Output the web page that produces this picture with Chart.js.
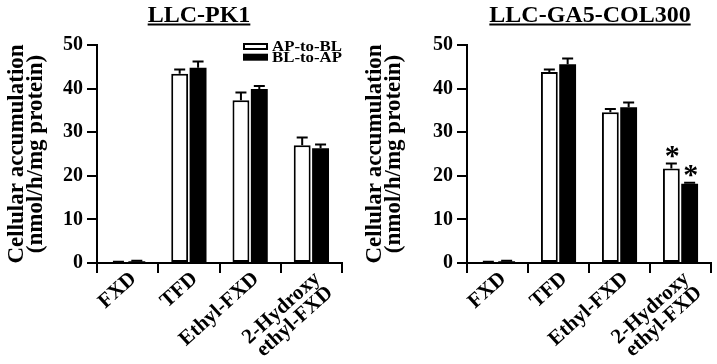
<!DOCTYPE html>
<html>
<head>
<meta charset="utf-8">
<script src="https://cdn.jsdelivr.net/npm/chart.js@4"></script>
<style>
body { margin: 0; background: #fff; }
#wrap { position: relative; width: 717px; height: 364px; }
canvas { position: absolute; top: 0; }
</style>
</head>
<body>
<div id="wrap">
  <canvas id="pk1" width="358" height="364" style="left:0"></canvas>
  <canvas id="col" width="359" height="364" style="left:358px"></canvas>
</div>
<script>
// values
const categories = ['FXD', 'TFD', 'Ethyl-FXD', ['2-Hydroxy', 'ethyl-FXD']];
const yTicks = [0, 10, 20, 30, 40, 50];
const seriesNames = ['AP-to-BL', 'BL-to-AP'];

const pk1ApToBl = [0.2, 43.4, 37.3, 27.0];
const pk1ApToBlErr = [0.1, 1.0, 1.8, 1.8];
const pk1BlToAp = [0.4, 44.8, 39.9, 26.3];
const pk1BlToApErr = [0.1, 1.4, 0.7, 0.9];

const colApToBl = [0.2, 43.8, 34.6, 21.7];
const colApToBlErr = [0.1, 0.6, 0.7, 1.1];
const colBlToAp = [0.4, 45.6, 35.7, 18.2];
const colBlToApErr = [0.1, 1.3, 1.1, 0.2];
const colStarsAp = [false, false, false, true];
const colStarsBl = [false, false, false, true];

const SERIF = '"Liberation Serif", "Times New Roman", serif';

const errorBars = {
    id: 'errorBars',
    afterDatasetsDraw(chart) {
        const ctx = chart.ctx;
        const y = chart.scales.y;
        chart.data.datasets.forEach((ds, i) => {
            chart.getDatasetMeta(i).data.forEach((bar, j) => {
                const top = y.getPixelForValue(ds.data[j] + ds.errors[j]);
                ctx.save();
                ctx.strokeStyle = '#000';
                ctx.lineWidth = 2;
                ctx.beginPath();
                ctx.moveTo(bar.x, bar.y);
                ctx.lineTo(bar.x, top);
                ctx.moveTo(bar.x - 5.5, top);
                ctx.lineTo(bar.x + 5.5, top);
                ctx.stroke();
                if (ds.stars && ds.stars[j]) {
                    ctx.fillStyle = '#000';
                    ctx.font = 'bold 30px ' + SERIF;
                    ctx.textAlign = 'center';
                    ctx.textBaseline = 'alphabetic';
                    ctx.fillText('*', bar.x + 1, top + 1);
                }
                ctx.restore();
            });
        });
    }
};

const panelTitle = {
    id: 'panelTitle',
    afterDraw(chart, args, opts) {
        const ctx = chart.ctx;
        ctx.save();
        ctx.font = 'bold 24px ' + SERIF;
        ctx.fillStyle = '#000';
        ctx.textAlign = 'center';
        ctx.textBaseline = 'alphabetic';
        ctx.fillText(opts.text, opts.x, 22);
        const w = ctx.measureText(opts.text).width;
        ctx.fillRect(opts.x - w / 2, 23.5, w, 2);
        ctx.restore();
    }
};

const boxLegend = {
    id: 'boxLegend',
    afterDraw(chart, args, opts) {
        if (!opts.show) return;
        const ctx = chart.ctx;
        const x = chart.chartArea.right - 99;
        ctx.save();
        ctx.font = 'bold 15px ' + SERIF;
        ctx.textBaseline = 'alphabetic';
        chart.data.datasets.forEach((ds, i) => {
            const top = 43 + i * 10.7;
            ctx.fillStyle = '#000';
            ctx.fillRect(x, top, 25, 7);
            if (ds.backgroundColor !== '#000') {
                ctx.fillStyle = ds.backgroundColor;
                ctx.fillRect(x + 2, top + 2, 21, 3);
            }
            ctx.fillStyle = '#000';
            ctx.save();
            ctx.translate(x + 29, top + 8.3);
            ctx.scale(1.12, 1);
            ctx.fillText(ds.label, 0, 0);
            ctx.restore();
        });
        ctx.restore();
    }
};

function makePanel(id, ap, apErr, bl, blErr, apStars, blStars, title, titleX, axisWidth, rightPad, legend) {
    return new Chart(document.getElementById(id), {
        type: 'bar',
        data: {
            labels: categories,
            datasets: [{
                label: seriesNames[0],
                data: ap,
                errors: apErr,
                stars: apStars,
                backgroundColor: '#fff',
                borderColor: '#000',
                borderWidth: 2,
                borderSkipped: false
            }, {
                label: seriesNames[1],
                data: bl,
                errors: blErr,
                stars: blStars,
                backgroundColor: '#000',
                borderColor: '#000',
                borderWidth: 0
            }]
        },
        options: {
            responsive: false,
            animation: false,
            devicePixelRatio: 1,
            layout: { padding: { top: 45, right: rightPad, left: 0, bottom: 0 } },
            datasets: { bar: { categoryPercentage: 0.6, barPercentage: 0.92 } },
            scales: {
                x: {
                    offset: true,
                    grid: { offset: true, drawOnChartArea: false, color: '#000', lineWidth: 2, tickLength: 10 },
                    border: { color: '#000', width: 2 },
                    ticks: {
                        color: '#000', autoSkip: false, minRotation: 42, maxRotation: 42,
                        padding: -4, labelOffset: 6,
                        font: { family: SERIF, size: 21, weight: 'bold', lineHeight: 0.9 }
                    },
                    afterFit: s => { s.height = 101; }
                },
                y: {
                    min: 0, max: 50,
                    afterBuildTicks: s => { s.ticks = yTicks.map(v => ({ value: v })); },
                    grid: { drawOnChartArea: false, color: '#000', lineWidth: 2, tickLength: 10 },
                    border: { color: '#000', width: 2 },
                    ticks: { color: '#000', padding: 4, font: { family: SERIF, size: 20, weight: 'bold' } },
                    title: {
                        display: true,
                        text: ['Cellular accumulation', '(nmol/h/mg protein)'],
                        color: '#000',
                        padding: { top: 8, bottom: 0 },
                        font: { family: SERIF, size: 23, weight: 'bold', lineHeight: 0.82 }
                    },
                    afterFit: s => { s.width = axisWidth; }
                }
            },
            plugins: {
                legend: { display: false },
                tooltip: { enabled: false },
                panelTitle: { text: title, x: titleX },
                boxLegend: { show: legend }
            }
        },
        plugins: [errorBars, panelTitle, boxLegend]
    });
}

makePanel('pk1', pk1ApToBl, pk1ApToBlErr, pk1BlToAp, pk1BlToApErr, null, null,
    'LLC-PK1', 199, 97, 16, true);
makePanel('col', colApToBl, colApToBlErr, colBlToAp, colBlToApErr, colStarsAp, colStarsBl,
    'LLC-GA5-COL300', 232, 109, 6, false);
</script>
</body>
</html>
